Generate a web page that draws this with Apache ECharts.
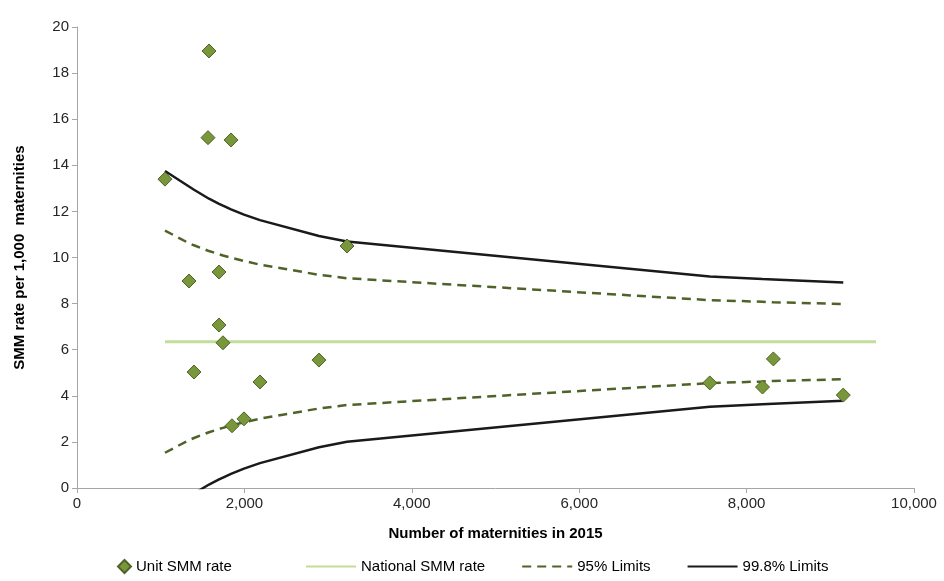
<!DOCTYPE html>
<html><head><meta charset="utf-8">
<script src="https://cdn.jsdelivr.net/npm/echarts@6/dist/echarts.min.js"></script>
<style>html,body{margin:0;background:#fff}#c{width:944px;height:581px}</style>
</head><body><div id="c"></div>
<script>
// unit data: [maternities, SMM rate per 1,000]
const units = [[1051,13.4],[1577,18.96],[1565,15.2],[1840,15.1],[3226,10.5],[1338,8.98],
  [1697,9.37],[1697,7.07],[1744,6.3],[1398,5.03],[2186,4.6],[2891,5.55],[1995,3.0],
  [1852,2.7],[7560,4.56],[8190,4.38],[8320,5.6],[9155,4.03]];
const limitX   = [1051,1338,1398,1577,1697,1744,1840,1852,1995,2186,2891,3226,7560,8190,8320,9155];
const up95     = [11.17,10.62,10.53,10.28,10.14,10.09,9.99,9.98,9.85,9.69,9.25,9.10,8.15,8.08,8.06,7.98];
const lo95     = [1.53,2.08,2.17,2.42,2.56,2.61,2.71,2.72,2.85,3.01,3.45,3.60,4.55,4.62,4.64,4.72];
const up998    = [13.75,13.08,12.94,12.55,12.33,12.25,12.09,12.07,11.86,11.62,10.93,10.69,9.18,9.07,9.05,8.92];
const lo998    = [-1.25,-0.38,-0.24,0.15,0.37,0.45,0.61,0.63,0.84,1.08,1.77,2.01,3.52,3.63,3.65,3.78];
const nationalX = [1051,9546];
const nationalRate = 6.35;

const pair = (xs, ys) => xs.map((x, i) => [x, ys[i]]);
const chart = echarts.init(document.getElementById("c"));
const axisLine = {lineStyle: {color: "#a6a6a6"}};
const lab = {color: "#262626", fontSize: 15, fontFamily: "Liberation Sans"};
const legText = {fontSize: 15, color: "#000", fontFamily: "Liberation Sans"};
const noSym = (name) => ({name, itemStyle: {opacity: 0}});
chart.setOption({
  animation: false,
  grid: {left: 77, right: 30, top: 27, bottom: 93},
  legend: [
    {bottom: 2, left: 112, itemWidth: 13, itemHeight: 13, textStyle: legText,
      data: [{name: "Unit SMM rate", icon: "diamond"}]},
    {bottom: 2, left: 300, itemGap: 36, itemWidth: 50, itemHeight: 12, textStyle: legText,
      data: [noSym("National SMM rate"), noSym("95% Limits"), noSym("99.8% Limits")]}],
  xAxis: {type: "value", min: 0, max: 10000, interval: 2000,
    name: "Number of maternities in 2015", nameLocation: "middle", nameGap: 38,
    nameTextStyle: {fontWeight: "bold", fontSize: 15, color: "#000", fontFamily: "Liberation Sans"},
    axisLine, axisTick: {show: true, lineStyle: {color: "#a6a6a6"}}, splitLine: {show: false},
    axisLabel: Object.assign({formatter: (v) => v.toLocaleString("en-US")}, lab)},
  yAxis: {type: "value", min: 0, max: 20, interval: 2,
    name: "SMM rate per 1,000  maternities", nameLocation: "middle", nameGap: 50,
    nameTextStyle: {fontWeight: "bold", fontSize: 15, color: "#000", fontFamily: "Liberation Sans"},
    axisLine: {show: true, lineStyle: {color: "#a6a6a6"}}, axisTick: {show: true, lineStyle: {color: "#a6a6a6"}},
    splitLine: {show: false}, axisLabel: lab},
  series: [
    {name: "National SMM rate", type: "line", symbol: "none", data: nationalX.map((x) => [x, nationalRate]),
      lineStyle: {color: "#c3dd9a", width: 3}, itemStyle: {color: "#c3dd9a"}},
    {name: "95% Limits", type: "line", symbol: "none", data: pair(limitX, up95),
      lineStyle: {color: "#4f6228", width: 2.5, type: [9, 6]}, itemStyle: {color: "#4f6228"}},
    {name: "95% Limits", type: "line", symbol: "none", data: pair(limitX, lo95),
      lineStyle: {color: "#4f6228", width: 2.5, type: [9, 6]}},
    {name: "99.8% Limits", type: "line", symbol: "none", data: pair(limitX, up998),
      lineStyle: {color: "#1a1a1a", width: 2.5}, itemStyle: {color: "#1a1a1a"}},
    {name: "99.8% Limits", type: "line", symbol: "none", data: pair(limitX, lo998), clip: true,
      lineStyle: {color: "#1a1a1a", width: 2.5}},
    {name: "Unit SMM rate", type: "scatter", symbol: "diamond", symbolSize: 14, data: units, z: 5,
      itemStyle: {color: "#77973a", borderColor: "#4f6228", borderWidth: 1, opacity: 1}}
  ]
});
</script></body></html>
